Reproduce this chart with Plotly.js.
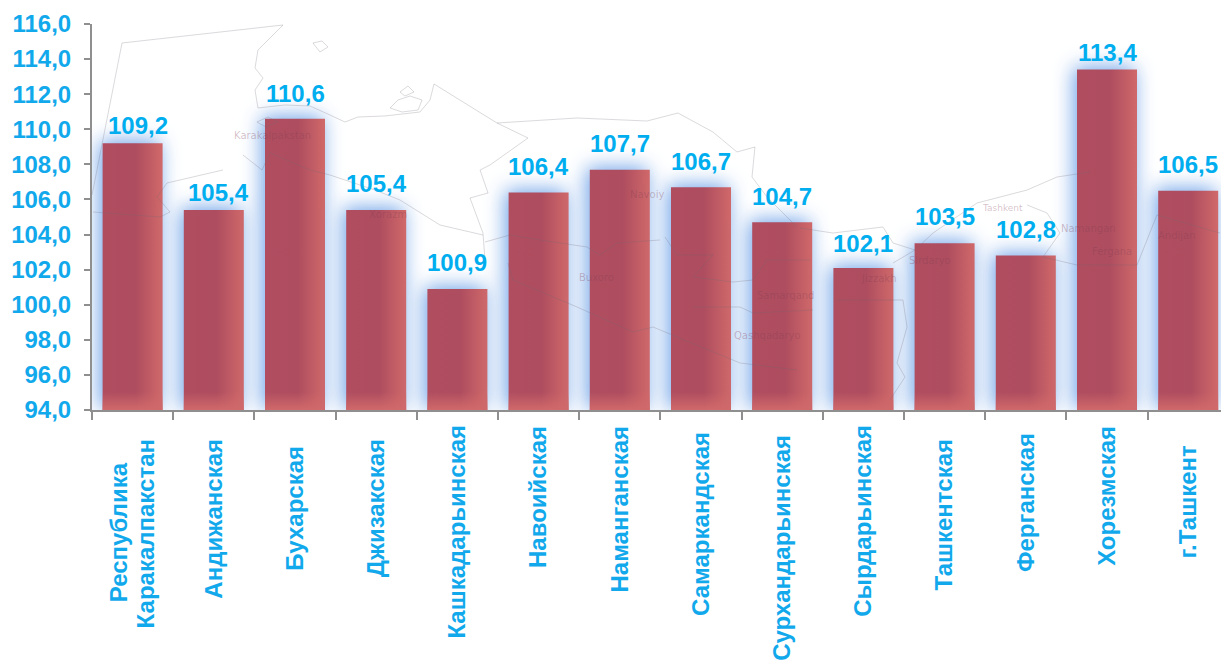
<!DOCTYPE html>
<html><head><meta charset="utf-8">
<script src="https://cdn.plot.ly/plotly-3.0.1.min.js"></script>
<style>html,body{margin:0;padding:0;background:#fff;overflow:hidden}</style></head>
<body><div id="chart" style="width:1221px;height:662px"></div>
<script>
const categories = ["Республика<br>Каракалпакстан","Андижанская","Бухарская","Джизакская","Кашкадарьинская","Навоийская","Наманганская","Самаркандская","Сурхандарьинская","Сырдарьинская","Ташкентская","Ферганская","Хорезмская","г.Ташкент"];
const values = [109.2,105.4,110.6,105.4,100.9,106.4,107.7,106.7,104.7,102.1,103.5,102.8,113.4,106.5];
const tickVals = [94,96,98,100,102,104,106,108,110,112,114,116];
const comma = v => v.toFixed(1).replace('.',',');
const labels = values.map(comma);
const tickText = tickVals.map(comma);
// label placement above each bar, in pixels
const labelRaise = [2,2,10,11,11,10,11,10,10,9,11,11,2,11];
const labelNudge = [5,5,0,0,0,0,0,0,0,0,0,0,0,0];
// where each rotated category label starts (top, page pixels)
const catLabelTop = [440,440,447,440,426,427,427,433,436,426,440,434,427,446];

// faint backdrop map (decoration behind the chart, page pixels)
const mapLines = [
 [[92,195],[122,43],[283,25]],
 [[283,25],[258,50],[255,68],[263,78],[255,90],[258,108],[285,105],[310,106],[330,115],[345,122],[358,117],[385,116],[420,112],[430,100],[434,84]],
 [[434,84],[497,123],[577,118],[647,121],[678,113],[713,132],[737,152],[755,147],[752,177],[767,197],[797,227]],
 [[497,123],[528,138],[490,165],[480,170],[488,193],[470,198],[483,233],[485,260]],
 [[93,212],[160,217],[170,212],[157,197],[167,183],[223,170]],
 [[243,155],[262,170],[270,153],[310,170],[330,175],[375,190],[400,200],[440,225],[483,235]],
 [[508,263],[513,280],[577,307],[633,332],[653,327],[740,363],[797,370]],
 [[485,242],[510,235],[540,240],[587,247],[600,255],[617,243],[660,240]],
 [[665,237],[677,255],[713,255],[693,277],[733,282],[753,280],[767,260],[810,260]],
 [[693,307],[740,307],[753,313],[813,310]],
 [[893,263],[915,250],[933,233],[977,203],[1027,190],[1057,177],[1090,172]],
 [[1027,205],[1047,213],[1060,233],[1043,257],[1077,265],[1137,265],[1157,215],[1220,233]],
 [[800,228],[833,233],[883,227],[893,243],[915,250]],
 [[837,300],[903,300],[907,327],[897,363],[905,377],[890,400]],
 [[313,43],[322,41],[328,47],[320,52],[313,43]],
 [[390,108],[398,100],[410,96],[422,100],[418,110],[402,112],[390,108]],
 [[400,92],[408,86],[414,92],[405,96],[400,92]],
 [[257,122],[268,117],[278,122],[266,127],[257,122]]
];
const mapNames = [["Karakalpakstan",272,135,10],["Xorazm",388,214,10],["Navoiy",647,194,10],["Buxoro",596,277,10],["Samarqand",785,295,10],["Qashqadaryo",767,335,10],["Jizzakh",878,278,10],["Sirdaryo",930,260,10],["Tashkent",1002,208,9],["Namangan",1088,228,10],["Fergana",1112,251,10],["Andijan",1177,236,10]];

const W=1221,H=662,L=92,T=24,B=252,PW=W-L,PH=H-T-B,catPx=81.2;
const px=x=>(x-L)/PW, py=y=>1-(y-T)/PH;
const axisBlue='#12a9ec', labelBlue='#00aeef';
const fam='Liberation Sans, Arial, sans-serif';
const fnt={family:fam,size:24,color:axisBlue,weight:700};
const axisGrey='#8f8f8f';
const shapes=mapLines.map(l=>({type:'path',xref:'paper',yref:'paper',layer:'above',
  path:'M'+l.map(p=>px(p[0]).toFixed(4)+','+py(p[1]).toFixed(4)).join('L'),
  line:{color:'rgba(110,105,115,0.25)',width:1}}));
const nameNotes=mapNames.map(n=>({xref:'paper',yref:'paper',x:px(n[1]),y:py(n[2]),xanchor:'center',yanchor:'middle',text:n[0],showarrow:false,
  font:{family:'DejaVu Sans',size:n[3],color:'rgba(130,60,85,0.32)'}}));
const valueNotes=categories.map((c,i)=>({xref:'x',yref:'y',x:c,y:values[i],text:labels[i],showarrow:false,
  xanchor:'center',yanchor:'bottom',xshift:labelNudge[i],yshift:labelRaise[i],
  font:{family:fam,size:24,color:labelBlue,weight:700}}));

Plotly.newPlot('chart',[
 {type:'bar',x:categories,y:values.map(v=>v-94),base:94,width:60/catPx,marker:{color:'#ae4d5f',line:{width:0}},cliponaxis:false,showlegend:false}
],{
 width:W,height:H,paper_bgcolor:'#fff',plot_bgcolor:'rgba(0,0,0,0)',shapes,annotations:nameNotes.concat(valueNotes),
 margin:{l:L,r:0,t:T,b:B,pad:0},
 xaxis:{type:'category',range:[-0.5,-0.5+PW/catPx],tickson:'boundaries',tickangle:-90,tickfont:fnt,ticklabelstandoff:18,showline:true,linecolor:axisGrey,linewidth:2,ticks:'outside',ticklen:8,tickwidth:2,tickcolor:axisGrey,showgrid:false,automargin:false},
 yaxis:{range:[94,116],tickvals:tickVals,ticktext:tickText,tickfont:fnt,showline:true,linecolor:axisGrey,linewidth:2,ticks:'outside',ticklen:6,tickwidth:2,tickcolor:axisGrey,ticklabelstandoff:8,showgrid:false,zeroline:false,automargin:false}
},{displayModeBar:false,staticPlot:true}).then(gd=>{
 const svg=gd.querySelector('svg.main-svg');
 const ns='http://www.w3.org/2000/svg';
 const defs=document.createElementNS(ns,'defs');
 const h=gd._fullLayout._size.h;
 defs.innerHTML=`<linearGradient id="barSide" x1="0" x2="1" y1="0" y2="0">
   <stop offset="0" stop-color="#b04e60"/><stop offset="0.55" stop-color="#ae4d5f"/><stop offset="1" stop-color="#d0696a"/></linearGradient>
  <linearGradient id="barFoot" gradientUnits="userSpaceOnUse" x1="0" x2="0" y1="${h-18}" y2="${h}">
   <stop offset="0" stop-color="#d0696a" stop-opacity="0"/><stop offset="1" stop-color="#d0696a" stop-opacity="1"/></linearGradient>`;
 svg.insertBefore(defs,svg.firstChild);
 gd.querySelectorAll('.barlayer .point path').forEach(p=>{
  p.style.fill='url(#barSide)';
  p.style.filter='drop-shadow(-3px -2px 10px rgba(100,155,230,0.95))';
  const f=p.cloneNode(false);
  f.style.fill='url(#barFoot)'; f.style.filter='none';
  p.parentNode.insertBefore(f,p.nextSibling);
 });
 // category labels: centred lines, tighter spacing, staggered starts as in the reference
 Array.from(gd.querySelectorAll('.xtick text')).forEach((t,i)=>{
  let dx=0;
  const lines=t.querySelectorAll('tspan.line');
  if(lines.length>1){
   lines[1].setAttribute('dy','1.12em');
   const x=parseFloat(lines[0].getAttribute('x')||t.getAttribute('x'));
   lines[0].setAttribute('x',x-24);
   lines[1].setAttribute('x',x);
   dx=2;
  }
  const top=t.getBoundingClientRect().top;
  const dy=catLabelTop[i]-top-1;
  t.setAttribute('transform',`translate(${dx},${dy.toFixed(1)}) `+(t.getAttribute('transform')||''));
 });
});
</script></body></html>
